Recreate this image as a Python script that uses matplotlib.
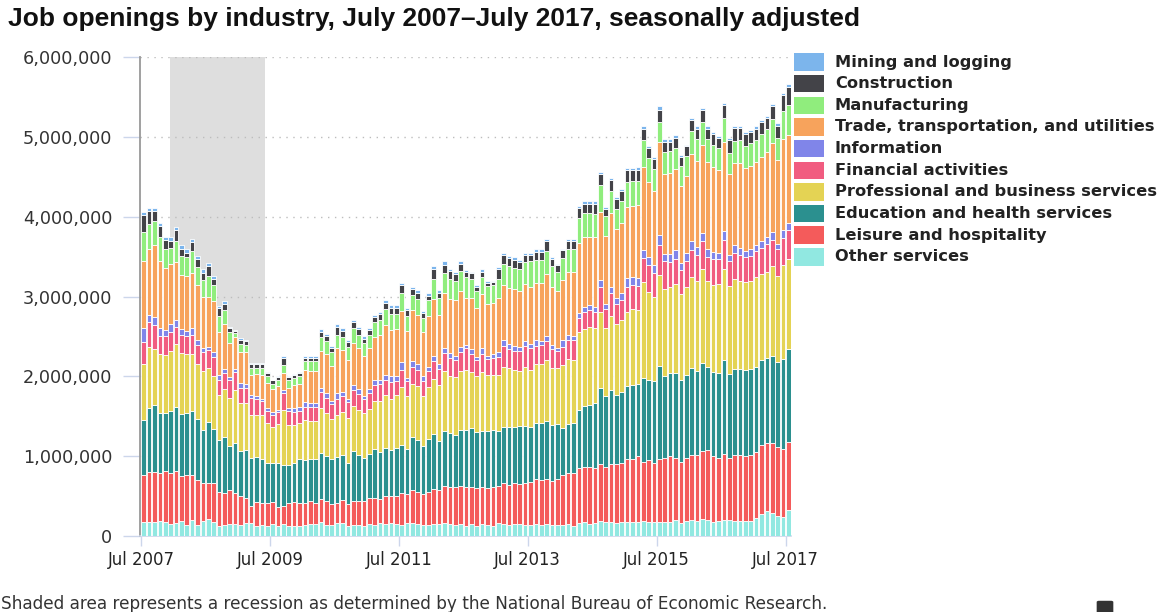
import matplotlib.pyplot as plt
import numpy as np
from matplotlib.patches import Rectangle, FancyBboxPatch
from matplotlib.ticker import FuncFormatter

# job openings in thousands, one value per month, Jul 2007 .. Jul 2017
# rows: Jul-Dec 2007, then 2008 .. 2016, then Jan-Jul 2017
other_services = [
    180, 180, 180, 190, 170, 150,
    160, 190, 140, 200, 140, 190, 210, 170, 130, 140, 150, 150,
    140, 160, 160, 130, 140, 130, 150, 120, 150, 130, 120, 130,
    140, 150, 150, 170, 140, 140, 160, 160, 130, 140, 140, 130,
    150, 140, 160, 150, 160, 150, 140, 160, 160, 150, 140, 140,
    150, 150, 160, 150, 140, 150, 130, 150, 130, 150, 140, 130,
    160, 150, 140, 150, 150, 140, 140, 150, 140, 150, 140, 140,
    140, 150, 130, 160, 170, 150, 160, 190, 170, 180, 160, 170,
    170, 180, 170, 190, 170, 180, 180, 180, 180, 200, 160, 190,
    200, 190, 210, 200, 170, 190, 200, 200, 190, 190, 190, 190,
    220, 270, 310, 290, 250, 240, 330,
]
leisure = [
    580, 620, 620, 600, 640, 640,
    660, 560, 620, 560, 560, 480, 460, 490, 420, 400, 420, 390,
    360, 320, 210, 300, 270, 280, 270, 240, 220, 280, 300, 280,
    270, 290, 260, 290, 300, 260, 250, 290, 270, 300, 300, 310,
    320, 330, 300, 350, 340, 350, 400, 370, 420, 400, 390, 410,
    440, 420, 470, 460, 470, 480, 490, 470, 470, 470, 460, 490,
    470, 520, 500, 510, 500, 520, 540, 560, 560, 570, 550, 570,
    620, 640, 660, 690, 700, 710, 690, 710, 700, 720, 740, 740,
    800, 790, 830, 740, 780, 740, 790, 800, 820, 780, 770, 790,
    810, 820, 860, 880, 830, 790, 830, 780, 830, 820, 810, 820,
    830, 870, 860, 870, 870, 850, 850,
]
education = [
    690, 800, 840, 750, 730, 770,
    800, 780, 780, 800, 770, 660, 760, 680, 650, 700, 560, 620,
    560, 600, 610, 560, 560, 500, 490, 560, 520, 480, 500, 560,
    540, 520, 560, 580, 560, 560, 580, 560, 520, 630, 580, 540,
    560, 620, 590, 600, 580, 600, 600, 560, 660, 650, 600, 660,
    690, 620, 690, 680, 660, 700, 710, 730, 700, 690, 720, 710,
    690, 700, 720, 700, 730, 720, 690, 700, 720, 720, 700, 690,
    590, 610, 620, 730, 760, 780, 810, 950, 880, 930, 870, 900,
    910, 920, 900, 1050, 1000, 1020, 1160, 1030, 1040, 1060, 1020, 1040,
    1090, 1060, 1100, 1040, 1050, 1060, 1170, 1050, 1070, 1080, 1080, 1080,
    1070, 1060, 1060, 1100, 1060, 1130, 1160,
]
professional = [
    710, 770, 700, 740, 730, 760,
    780, 760, 740, 720, 690, 740, 670, 660, 560, 600, 600, 670,
    600, 580, 540, 530, 540, 500, 460, 480, 690, 500, 470, 450,
    500, 480, 470, 560, 540, 500, 530, 540, 560, 560, 560, 560,
    560, 600, 640, 670, 640, 660, 730, 660, 670, 680, 620, 660,
    690, 700, 750, 720, 720, 740, 750, 700, 700, 750, 700, 690,
    700, 750, 740, 720, 690, 740, 710, 740, 730, 760, 720, 700,
    790, 820, 800, 980, 960, 980, 950, 950, 860, 930, 880, 900,
    930, 950, 930, 1200, 1110, 1060, 1140, 1090, 1080, 1120, 1080, 1100,
    1140, 1120, 1170, 1080, 1100, 1120, 1140, 1100, 1130, 1110, 1100, 1110,
    1120, 1080, 1080, 1120, 1080, 1170, 1130,
]
financial = [
    270, 310, 300, 230, 230, 240,
    220, 230, 230, 240, 230, 240, 230, 240, 200, 200, 220, 220,
    200, 190, 210, 190, 180, 160, 150, 150, 210, 170, 160, 150,
    170, 180, 180, 200, 190, 190, 200, 200, 200, 200, 200, 170,
    200, 200, 210, 190, 210, 180, 210, 190, 210, 200, 190, 200,
    220, 200, 220, 220, 220, 240, 270, 230, 200, 220, 200, 210,
    220, 260, 240, 240, 250, 260, 270, 230, 240, 240, 230, 220,
    230, 230, 240, 170, 210, 210, 200, 320, 230, 280, 260, 250,
    310, 300, 300, 300, 330, 300, 370, 340, 310, 310, 300, 320,
    340, 330, 350, 300, 320, 310, 370, 310, 330, 320, 310, 310,
    330, 330, 350, 330, 330, 340, 360,
]
information = [
    180, 90, 100, 90, 80, 90,
    90, 70, 60, 80, 60, 50, 40, 60, 60, 50, 40, 40,
    60, 50, 30, 40, 30, 30, 30, 30, 40, 40, 50, 40,
    60, 50, 40, 50, 60, 40, 70, 60, 40, 60, 60, 40,
    50, 60, 60, 60, 70, 70, 100, 40, 70, 70, 60, 50,
    60, 60, 60, 60, 50, 60, 40, 60, 40, 70, 40, 50,
    60, 70, 60, 60, 50, 60, 60, 70, 50, 70, 50, 40,
    90, 70, 60, 60, 70, 60, 60, 90, 70, 80, 70, 80,
    110, 100, 100, 100, 110, 100, 130, 90, 100, 110, 90, 100,
    110, 100, 100, 90, 90, 80, 110, 80, 90, 90, 80, 80,
    80, 80, 90, 100, 70, 100, 90,
]
trade = [
    830, 830, 900, 850, 780, 760,
    720, 680, 690, 700, 700, 630, 630, 640, 530, 560, 430, 400,
    390, 410, 260, 280, 300, 320, 290, 300, 210, 260, 290, 290,
    400, 400, 410, 470, 490, 440, 560, 520, 490, 530, 510, 500,
    520, 540, 560, 620, 580, 580, 640, 590, 640, 620, 560, 640,
    720, 620, 690, 680, 700, 700, 590, 640, 610, 680, 640, 640,
    680, 700, 710, 720, 700, 720, 710, 720, 730, 770, 730, 710,
    750, 790, 800, 880, 870, 850, 870, 850, 850, 920, 860, 880,
    890, 890, 910, 1040, 940, 920, 1170, 1010, 1020, 1020, 970, 970,
    1100, 1080, 1110, 1100, 1060, 1040, 1110, 1010, 1030, 1060, 1040, 1050,
    1030, 1060, 1060, 1110, 1050, 1140, 1100,
]
manufacturing = [
    370, 310, 300, 290, 240, 200,
    270, 240, 230, 270, 220, 220, 260, 200, 210, 180, 130, 50,
    100, 80, 80, 80, 90, 80, 70, 70, 100, 90, 90, 100,
    110, 120, 120, 170, 160, 170, 170, 160, 160, 190, 170, 170,
    160, 190, 190, 200, 200, 190, 230, 190, 190, 200, 170, 190,
    250, 210, 260, 250, 240, 250, 270, 240, 220, 220, 230, 220,
    240, 260, 270, 260, 270, 270, 320, 290, 290, 290, 260, 240,
    270, 280, 280, 310, 300, 300, 290, 340, 250, 280, 260, 270,
    320, 320, 310, 340, 290, 280, 250, 270, 270, 260, 240, 250,
    280, 270, 290, 280, 280, 270, 300, 270, 280, 290, 270, 280,
    280, 290, 290, 300, 280, 350, 380,
]
construction = [
    210, 160, 130, 140, 110, 90,
    130, 90, 60, 110, 100, 90, 120, 80, 90, 80, 50, 30,
    50, 50, 50, 40, 40, 40, 40, 40, 90, 40, 40, 40,
    40, 40, 40, 70, 60, 50, 100, 80, 60, 70, 70, 50,
    60, 60, 70, 80, 80, 80, 90, 70, 70, 80, 60, 60,
    120, 70, 100, 100, 80, 90, 60, 70, 50, 60, 40, 40,
    120, 110, 100, 100, 90, 90, 80, 100, 100, 120, 90, 80,
    100, 100, 100, 130, 120, 120, 130, 130, 90, 140, 120, 130,
    140, 140, 140, 140, 130, 120, 150, 130, 120, 130, 120, 120,
    140, 130, 140, 130, 130, 120, 170, 160, 160, 150, 150, 140,
    140, 140, 130, 160, 150, 200, 230,
]
mining = [
    40, 40, 40, 40, 40, 40,
    40, 40, 40, 40, 40, 40, 40, 40, 30, 30, 20, 10,
    20, 10, 20, 20, 20, 10, 10, 10, 20, 10, 10, 10,
    20, 20, 20, 30, 30, 30, 40, 30, 30, 30, 30, 30,
    30, 30, 30, 30, 30, 30, 30, 30, 30, 30, 30, 30,
    40, 30, 40, 30, 30, 30, 20, 20, 20, 30, 20, 20,
    30, 30, 30, 30, 30, 30, 20, 30, 30, 30, 20, 20,
    20, 30, 30, 20, 30, 30, 30, 30, 20, 30, 30, 30,
    30, 20, 30, 40, 30, 30, 40, 30, 30, 30, 20, 20,
    30, 30, 30, 30, 30, 30, 30, 30, 30, 30, 30, 30,
    30, 30, 30, 30, 30, 30, 30,
]

# stacking order, bottom to top
series = [other_services, leisure, education, professional, financial,
          information, trade, manufacturing, construction, mining]
labels = ["Other services", "Leisure and hospitality",
          "Education and health services", "Professional and business services",
          "Financial activities", "Information",
          "Trade, transportation, and utilities", "Manufacturing",
          "Construction", "Mining and logging"]
colors = ["#91e8e1", "#f45b5b", "#2b908f", "#e4d354", "#f15c80",
          "#8085e9", "#f7a35c", "#90ed7d", "#434348", "#7cb5ec"]

tick_months = [0, 24, 48, 72, 96, 120]
tick_labels = ["Jul 2007", "Jul 2009", "Jul 2011", "Jul 2013", "Jul 2015", "Jul 2017"]
# recession Dec 2007 - Jun 2009, in month index units
recession = (5.4, 23.1)

W, H = 1162, 612
fig = plt.figure(figsize=(W / 100, H / 100), dpi=100)
ax = fig.add_axes([140 / W, 1 - 536 / H, 651 / W, 479 / H])

x = np.arange(len(other_services)) + 0.5
bottom = np.zeros(len(x))
for vals, color in zip(series, colors):
    v = np.array(vals) * 1000.0
    ax.bar(x, v, width=0.86, bottom=bottom, color=color,
           edgecolor="white", linewidth=0.6, zorder=3)
    bottom += v

ax.axvspan(recession[0], recession[1], color="#dedede", lw=0, zorder=0)

ax.set_xlim(-0.2, 121.0)
ax.set_ylim(0, 6000000)
ax.set_yticks(np.arange(0, 6000001, 1000000))
ax.yaxis.set_major_formatter(FuncFormatter(lambda v, _: f"{int(v):,}"))
ax.set_xticks(tick_months)
ax.set_xticklabels(tick_labels)

ax.set_axisbelow(True)
ax.yaxis.grid(True, color="#bdbdbd", linestyle=(0, (1, 4)), lw=1)

for s in ["top", "right"]:
    ax.spines[s].set_visible(False)
ax.spines["left"].set_color("#999999")
ax.spines["left"].set_linewidth(1.3)
ax.spines["bottom"].set_color("#ccd6eb")
ax.spines["bottom"].set_linewidth(1.2)

ax.tick_params(axis="y", length=12, width=1, color="#ccd6eb", pad=8,
               labelsize=12, labelcolor="#333333")
ax.tick_params(axis="x", length=7, width=1, color="#ccd6eb", pad=4,
               labelsize=11, labelcolor="#222222")

# legend drawn by hand, top entry first
legend_texts = []
for i, (name, color) in enumerate(zip(labels[::-1], colors[::-1])):
    cy = 62 + i * 21.65
    fig.patches.append(Rectangle((794 / W, 1 - (cy + 8.7) / H), 30 / W, 17.4 / H,
                                 transform=fig.transFigure, facecolor=color,
                                 edgecolor="none"))
    legend_texts.append(fig.text(835 / W, 1 - cy / H, name, va="center",
                                 ha="left", fontsize=11.5, fontfamily="DejaVu Sans",
                                 fontweight="bold", color="#222222"))

title = fig.text(8 / W, 1 - 19 / H,
                 "Job openings by industry, July 2007\u2013July 2017, seasonally adjusted",
                 fontsize=18, fontweight="bold", fontfamily="Liberation Sans",
                 va="center", ha="left", color="#111111")
note = fig.text(1 / W, 1 - 604 / H,
                "Shaded area represents a recession as determined by the National "
                "Bureau of Economic Research.",
                fontsize=11, fontfamily="DejaVu Sans", va="center", ha="left",
                color="#333333")
fig.patches.append(FancyBboxPatch((1099 / W, 0), 12 / W, 10 / H,
                                  boxstyle="round,pad=0.002",
                                  transform=fig.transFigure,
                                  facecolor="#333333", edgecolor="none"))

# scale text so its width matches the widths measured on the reference
fig.canvas.draw()
r = fig.canvas.get_renderer()


def scale_for(t, target):
    return t.get_fontsize() * target / t.get_window_extent(r).width


title.set_fontsize(scale_for(title, 850))
note.set_fontsize(scale_for(note, 830))
leg_size = scale_for(legend_texts[3], 320)
for t in legend_texts:
    t.set_fontsize(leg_size)
ax.tick_params(axis="y", labelsize=scale_for(ax.get_yticklabels()[-1], 89))
ax.tick_params(axis="x", labelsize=scale_for(ax.get_xticklabels()[0], 67))

fig.savefig("out.png", dpi=100)
